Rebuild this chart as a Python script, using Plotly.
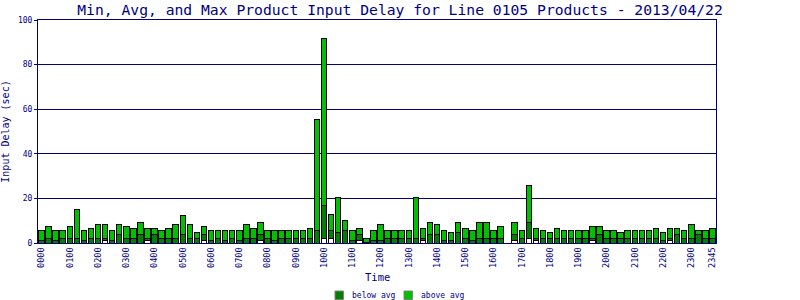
import plotly.graph_objects as go

NAVY = "#000080"
FONT = "DejaVu Sans Mono"

# time slots (every 15 minutes)
times = [f"{h:02d}{m:02d}" for h in range(24) for m in (0, 15, 30, 45)]

max_vals = [5.4, 7.6, 5.4, 5.4, 7.6, 15.2, 5.4, 6.3, 8.5, 8.5,
            5.4, 8.5, 7.6, 6.3, 9.4, 6.3, 6.3, 5.4, 6.3, 8.5,
            12.5, 8.5, 4.5, 7.6, 5.4, 5.4, 5.4, 5.4, 5.4, 8.5,
            6.3, 9.4, 5.4, 5.4, 5.4, 5.4, 5.4, 5.4, 6.3, 55.6,
            91.9, 12.6, 20.2, 10.3, 5.4, 6.3, 2.2, 5.4, 8.5, 5.4,
            5.4, 5.4, 5.4, 20.2, 6.3, 9.4, 8.5, 5.4, 4.5, 9.4,
            6.3, 5.4, 9.4, 9.4, 5.4, 7.6, None, 9.4, 5.4, 26.0,
            6.3, 5.4, 4.5, 6.3, 5.4, 5.4, 5.4, 5.4, 7.6, 7.6,
            5.4, 5.4, 4.5, 5.4, 5.4, 5.4, 5.4, 6.3, 4.5, 6.3,
            6.3, 5.4, 8.5, 5.4, 5.4, 6.3]

avg_vals = [1.3, 2.2, 1.3, 2.2, 2.2, 2.2, 1.3, 2.2, 2.2, 2.2,
            1.3, 3.6, 2.2, 2.2, 3.6, 2.2, 3.6, 2.2, 2.2, 2.2,
            3.6, 2.2, 2.2, 3.6, 1.3, 2.2, 1.3, 2.2, 1.3, 2.2,
            2.2, 3.6, 2.2, 1.3, 2.2, 2.2, 2.2, 2.2, 2.2, 5.4,
            16.6, 5.4, 4.5, 5.4, 1.3, 3.6, 0.4, 1.3, 1.3, 2.2,
            2.2, 2.2, 2.2, 2.2, 2.2, 3.6, 3.6, 1.3, 1.3, 4.5,
            2.2, 1.3, 2.2, 2.2, 2.2, 2.2, None, 3.6, 2.2, 9.4,
            2.2, 2.2, 2.2, 2.2, 2.2, 2.2, 2.2, 2.2, 2.2, 3.6,
            2.2, 2.2, 2.2, 2.2, 2.2, 2.2, 2.2, 2.2, 1.3, 2.2,
            3.6, 2.2, 2.2, 3.6, 2.2, 2.2]

min_vals = [0, 0, 0, 0, 0, 0, 0, 0, 0, 1.3,
            0, 0, 0, 0, 0, 1.0, 0, 0, 0, 0,
            0, 0, 0, 1.3, 0, 0, 0, 0, 0, 0,
            0, 1.3, 0, 0, 0, 0, 0, 0, 0, 0,
            2.1, 2.1, 0, 0, 0, 1.3, 0, 0, 0, 0,
            0, 0, 0, 0, 1.3, 0, 0, 0, 0, 0,
            0, 0, 0, 0, 0, 0, None, 1.3, 0, 2.2,
            1.3, 0, 0, 0, 0, 0, 0, 0, 1.3, 0,
            0, 0, 0, 0, 0, 0, 0, 0, 0, 1.3,
            0, 0, 0, 0, 0, 0]

tick_idx = list(range(0, 96, 4)) + [95]
tick_text = [times[i] for i in tick_idx]

legend_names = ["below avg", "above avg"]
legend_colors = ["#008000", "#00C000"]

x = list(range(len(times)))

def diff(a, b):
    return [None if (p is None or q is None) else max(p - q, 0) for p, q in zip(a, b)]

below = diff(avg_vals, min_vals)
above = diff(max_vals, avg_vals)

fig = go.Figure()
fig.add_trace(go.Bar(x=x, y=min_vals, marker=dict(color="white", line=dict(color="black", width=1)),
                     showlegend=False, hoverinfo="skip"))
fig.add_trace(go.Bar(x=x, y=below, name=legend_names[0],
                     marker=dict(color=legend_colors[0], line=dict(color="black", width=1)), showlegend=False))
fig.add_trace(go.Bar(x=x, y=above, name=legend_names[1],
                     marker=dict(color=legend_colors[1], line=dict(color="black", width=1)), showlegend=False))

# plot area in pixels: x 38..716, y 20..243
L, R, T, B = 38, 716, 20, 243
def px(xp):
    return (xp - L) / (R - L)
def py(yp):
    return (B - yp) / (B - T)

shapes = []
annotations = []
for i, (name, col) in enumerate(zip(legend_names, legend_colors)):
    x0 = 335 + 69 * i
    shapes.append(dict(type="rect", xref="paper", yref="paper",
                       x0=px(x0), x1=px(x0 + 8.5), y0=py(299.5), y1=py(291),
                       fillcolor=col, line=dict(color="#808080", width=1)))
    annotations.append(dict(text=name, xref="paper", yref="paper", x=px(x0 + 15), y=py(295),
                            xanchor="left", yanchor="middle", showarrow=False,
                            font=dict(family=FONT, size=8, color=NAVY)))
annotations.append(dict(text="Time", xref="paper", yref="paper", x=0.5, y=py(277),
                        xanchor="center", yanchor="middle", showarrow=False,
                        font=dict(family=FONT, size=10.5, color=NAVY)))

fig.update_layout(
    width=800, height=300,
    barmode="stack", bargap=0.22,
    paper_bgcolor="white", plot_bgcolor="white",
    margin=dict(l=38, r=84, t=20, b=57),
    font=dict(family=FONT, color=NAVY, size=9),
    title=dict(text="Min, Avg, and Max Product Input Delay for Line 0105 Products - 2013/04/22",
               x=0.5, xanchor="center", y=0.985, yanchor="top",
               font=dict(family=FONT, size=14.7, color=NAVY)),
    showlegend=False,
    shapes=shapes,
    annotations=annotations,
    xaxis=dict(range=[-0.5, 95.5], tickmode="array", tickvals=tick_idx, ticktext=tick_text,
               tickangle=-90, tickfont=dict(family=FONT, size=8.5, color=NAVY),
               showline=True, linecolor=NAVY, linewidth=1, mirror=True, showgrid=False,
               ticks="", zeroline=False, automargin=False),
    yaxis=dict(range=[0, 100], tickvals=[0, 20, 40, 60, 80, 100],
               tickfont=dict(family=FONT, size=8, color=NAVY),
               showline=True, linecolor=NAVY, linewidth=1, mirror=True,
               showgrid=True, gridcolor=NAVY, gridwidth=1, zeroline=False,
               ticks="outside", ticklen=3, tickcolor=NAVY, automargin=False,
               title=dict(text="Input Delay (sec)", font=dict(family=FONT, size=10, color=NAVY), standoff=6)),
)

fig.write_html("out.html")
